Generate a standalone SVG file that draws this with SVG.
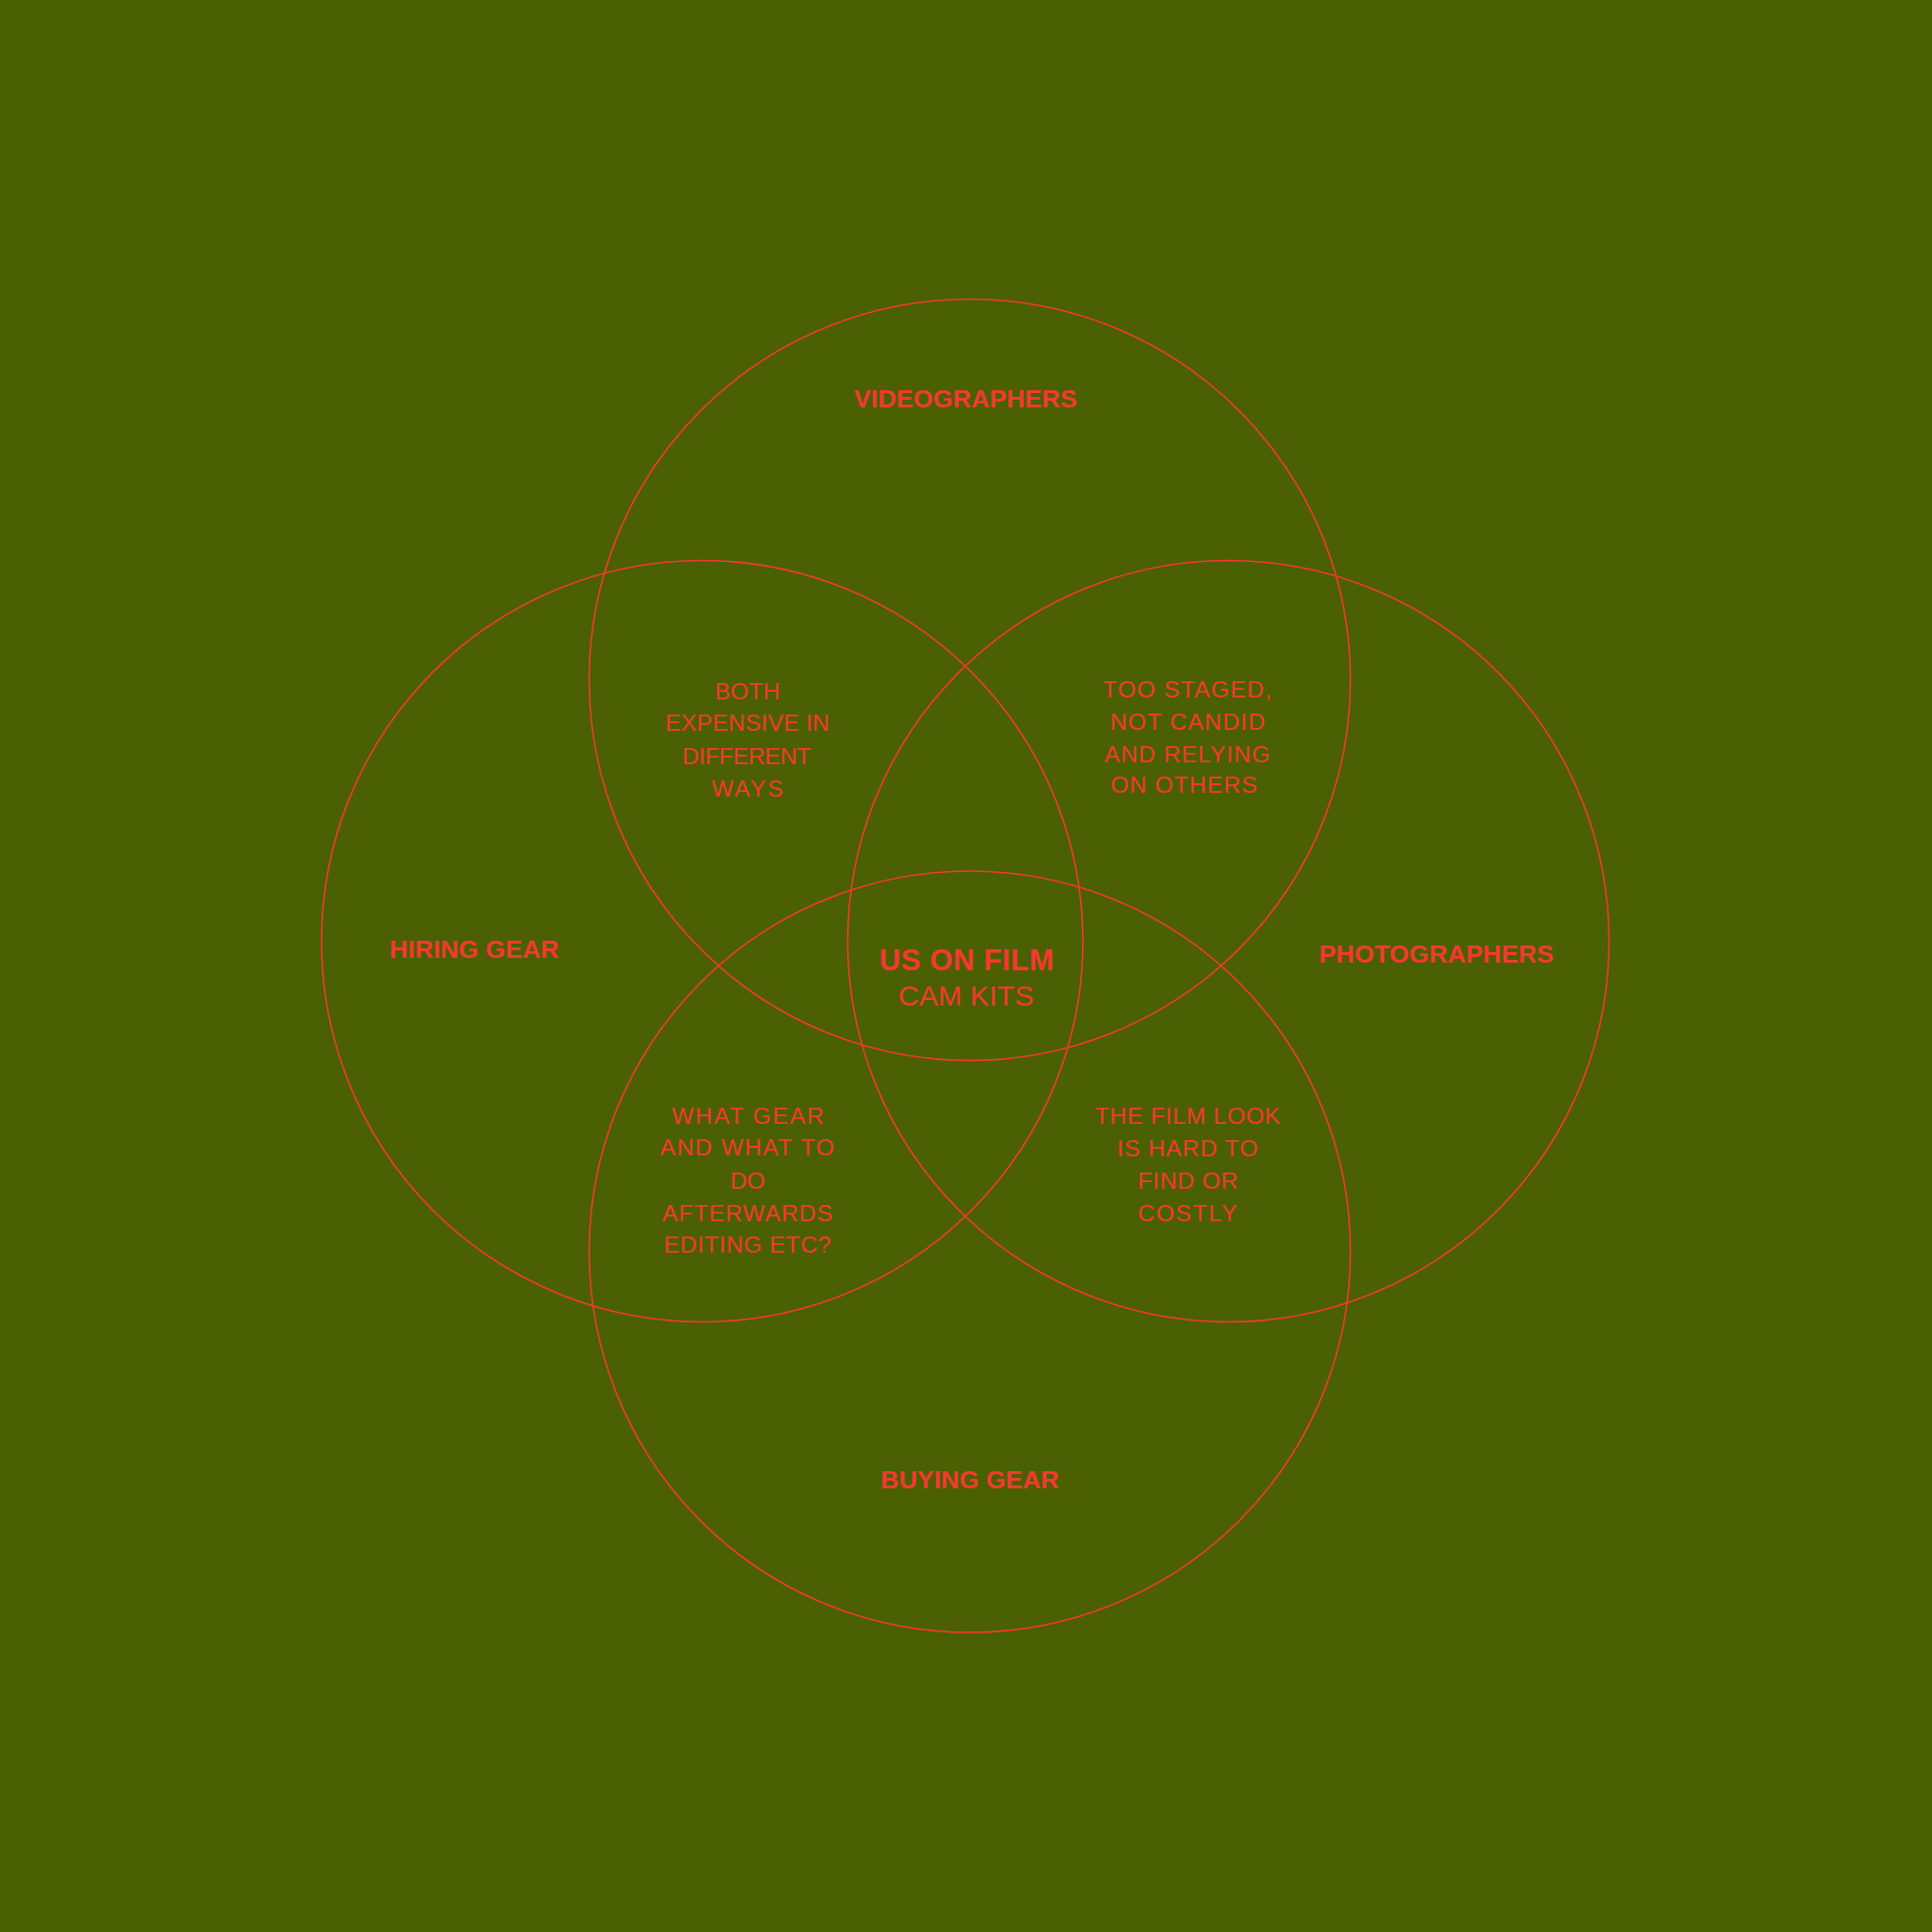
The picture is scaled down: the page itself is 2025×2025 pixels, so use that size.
<svg xmlns="http://www.w3.org/2000/svg" width="2025" height="2025" viewBox="0 0 2025 2025">
<style>
.c{fill:none;stroke:#f4392f;stroke-width:1.6}
.b{font-family:"Liberation Sans",Arial,sans-serif;font-weight:bold;font-size:26.5px;fill:#f4392f;text-anchor:middle}
.r{font-family:"Liberation Sans",Arial,sans-serif;font-size:24.5px;fill:#f4392f;text-anchor:middle}
</style>
<rect width="2025" height="2025" fill="#4b6003"/>
<g id="circles">
<circle id="c-top" class="c" cx="1016.5" cy="712.5" r="399"/>
<circle id="c-left" class="c" cx="736" cy="986.5" r="399"/>
<circle id="c-right" class="c" cx="1287.5" cy="986.5" r="399"/>
<circle id="c-bottom" class="c" cx="1016.5" cy="1312" r="399"/>
</g>
<g id="videographers"><text class="b" x="1012" y="426.5" textLength="234" lengthAdjust="spacing">VIDEOGRAPHERS</text></g>
<g id="hiring"><text class="b" x="497" y="1003.5" textLength="177.5" lengthAdjust="spacing">HIRING GEAR</text></g>
<g id="photographers"><text class="b" x="1505.5" y="1008.5" textLength="246" lengthAdjust="spacing">PHOTOGRAPHERS</text></g>
<g id="buying"><text class="b" x="1016.5" y="1559.5" textLength="187" lengthAdjust="spacing">BUYING GEAR</text></g>
<g id="center">
<text class="b" x="1013" y="1016.5" style="font-size:31px" textLength="183" lengthAdjust="spacing">US ON FILM</text>
<text class="r" x="1012.5" y="1053.5" style="font-size:30px" textLength="142" lengthAdjust="spacing">CAM KITS</text>
</g>
<g id="both">
<text class="r" x="783.3" y="732.5">BOTH</text>
<text class="r" x="783.3" y="766" textLength="172" lengthAdjust="spacing">EXPENSIVE IN</text>
<text class="r" x="782.5" y="800.5" textLength="135" lengthAdjust="spacing">DIFFERENT</text>
<text class="r" x="783.3" y="834.5" textLength="75" lengthAdjust="spacing">WAYS</text>
</g>
<g id="staged">
<text class="r" x="1244.2" y="731" textLength="177" lengthAdjust="spacing">TOO STAGED,</text>
<text class="r" x="1244.7" y="765" textLength="162.5" lengthAdjust="spacing">NOT CANDID</text>
<text class="r" x="1244.2" y="799" textLength="173.5" lengthAdjust="spacing">AND RELYING</text>
<text class="r" x="1240.8" y="831" textLength="153.5" lengthAdjust="spacing">ON OTHERS</text>
</g>
<g id="whatgear">
<text class="r" x="783.8" y="1177.5" textLength="159.5" lengthAdjust="spacing">WHAT GEAR</text>
<text class="r" x="783" y="1211" textLength="182.5" lengthAdjust="spacing">AND WHAT TO</text>
<text class="r" x="783.5" y="1245.5">DO</text>
<text class="r" x="783.3" y="1279.5" textLength="178.5" lengthAdjust="spacing">AFTERWARDS</text>
<text class="r" x="783.3" y="1312.5" textLength="175" lengthAdjust="spacing">EDITING ETC?</text>
</g>
<g id="filmlook">
<text class="r" x="1244.7" y="1177.5" textLength="194.5" lengthAdjust="spacing">THE FILM LOOK</text>
<text class="r" x="1244.5" y="1211.5" textLength="147.5" lengthAdjust="spacing">IS HARD TO</text>
<text class="r" x="1245" y="1245.5" textLength="105" lengthAdjust="spacing">FIND OR</text>
<text class="r" x="1244.5" y="1279.5" textLength="104" lengthAdjust="spacing">COSTLY</text>
</g>
</svg>
